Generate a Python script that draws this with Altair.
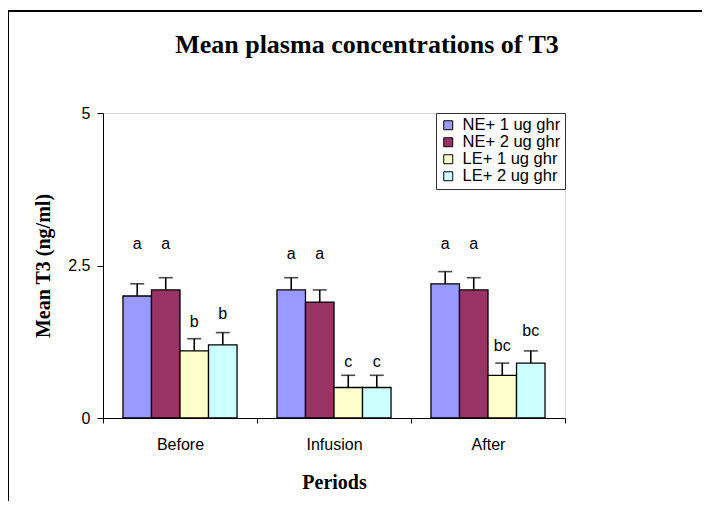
import altair as alt
import pandas as pd

periods = ["Before", "Infusion", "After"]
series = ["NE+ 1 ug ghr", "NE+ 2 ug ghr", "LE+ 1 ug ghr", "LE+ 2 ug ghr"]
colors = ["#9999FF", "#993366", "#FFFFCC", "#CCFFFF"]

# mean T3 per period (rows) and group (columns)
means = [
    [2.0, 2.1, 1.1, 1.2],
    [2.1, 1.9, 0.5, 0.5],
    [2.2, 2.1, 0.7, 0.9],
]
ses = [
    [0.2, 0.2, 0.2, 0.2],
    [0.2, 0.2, 0.2, 0.2],
    [0.2, 0.2, 0.2, 0.2],
]
letters = [
    ["a", "a", "b", "b"],
    ["a", "a", "c", "c"],
    ["a", "a", "bc", "bc"],
]
letter_heights = [
    [2.86, 2.86, 1.57, 1.71],
    [2.69, 2.69, 0.91, 0.91],
    [2.86, 2.86, 1.18, 1.43],
]

rows = []
for i, p in enumerate(periods):
    for j, s in enumerate(series):
        rows.append({
            "period": p, "series": s, "mean": means[i][j],
            "upper": means[i][j] + ses[i][j],
            "letter": letters[i][j], "ly": letter_heights[i][j],
        })
df = pd.DataFrame(rows)

x_enc = alt.X("period:N", sort=periods, scale=alt.Scale(paddingInner=0, paddingOuter=0),
              axis=alt.Axis(title="Periods", labelAngle=0, tickBand="extent",
                            domainColor="black", tickColor="black", tickSize=5,
                            labelPadding=13, titlePadding=20,
                            labelFont="Liberation Sans", labelFontSize=16, labelColor="black",
                            titleFont="Liberation Serif", titleFontSize=20,
                            titleFontWeight="bold", titleColor="black"))
xo = alt.XOffset("series:N", sort=series, scale=alt.Scale(paddingOuter=0.7, paddingInner=0))
y_scale = alt.Scale(domain=[0, 5], nice=False)

base = alt.Chart(df)

bars = base.mark_bar(stroke="black", strokeWidth=1.3).encode(
    x=x_enc,
    xOffset=xo,
    y=alt.Y("mean:Q", scale=y_scale,
            axis=alt.Axis(title="Mean T3 (ng/ml)", values=[0, 2.5, 5], labelExpr="datum.value",
                          grid=False, domainColor="black", tickColor="black", tickSize=6,
                          labelPadding=7, titlePadding=14,
                          labelFont="Liberation Sans", labelFontSize=16, labelColor="black",
                          titleFont="Liberation Serif", titleFontSize=20,
                          titleFontWeight="bold", titleColor="black")),
    color=alt.Color("series:N", sort=series,
                    scale=alt.Scale(domain=series, range=colors),
                    legend=alt.Legend(title=None, orient="top-right", offset=0, padding=4,
                                      strokeColor="#333333", fillColor="white",
                                      labelFont="Liberation Sans", labelFontSize=16.5,
                                      labelColor="black", symbolType="square", symbolSize=80,
                                      symbolStrokeColor="black", symbolStrokeWidth=1,
                                      rowPadding=0, labelOffset=6)),
)

err = base.mark_rule(color="black", strokeWidth=1.6).encode(
    x=alt.X("period:N", sort=periods), xOffset=xo,
    y=alt.Y("mean:Q", scale=y_scale), y2="upper:Q",
)
caps = base.mark_tick(color="black", thickness=1.6, size=14).encode(
    x=alt.X("period:N", sort=periods), xOffset=xo,
    y=alt.Y("upper:Q", scale=y_scale),
)
labels = base.mark_text(font="Liberation Sans", fontSize=16, color="black", baseline="middle").encode(
    x=alt.X("period:N", sort=periods), xOffset=xo,
    y=alt.Y("ly:Q", scale=y_scale),
    text="letter:N",
)

frame_top = base.mark_rule(color="black", strokeWidth=1).encode(
    x=alt.value(-95), x2=alt.value(620), y=alt.value(-102))
frame_left = base.mark_rule(color="black", strokeWidth=1).encode(
    x=alt.value(-94.5), y=alt.value(-102), y2=alt.value(400))

chart = alt.layer(bars, err, caps, labels, frame_top, frame_left).properties(
    width=462, height=305,
    autosize=alt.AutoSizeParams(type="none"),
    padding={"left": 95, "top": 105, "right": 137, "bottom": 83},
    title=alt.Title("Mean plasma concentrations of T3", font="Liberation Serif",
                    fontSize=26, fontWeight="bold", color="black",
                    anchor="middle", dx=33, offset=-47),
).configure_view(stroke="#808080", strokeWidth=1).configure(background="white")

chart.save("out.html", embed_options={"renderer": "svg", "actions": False})
